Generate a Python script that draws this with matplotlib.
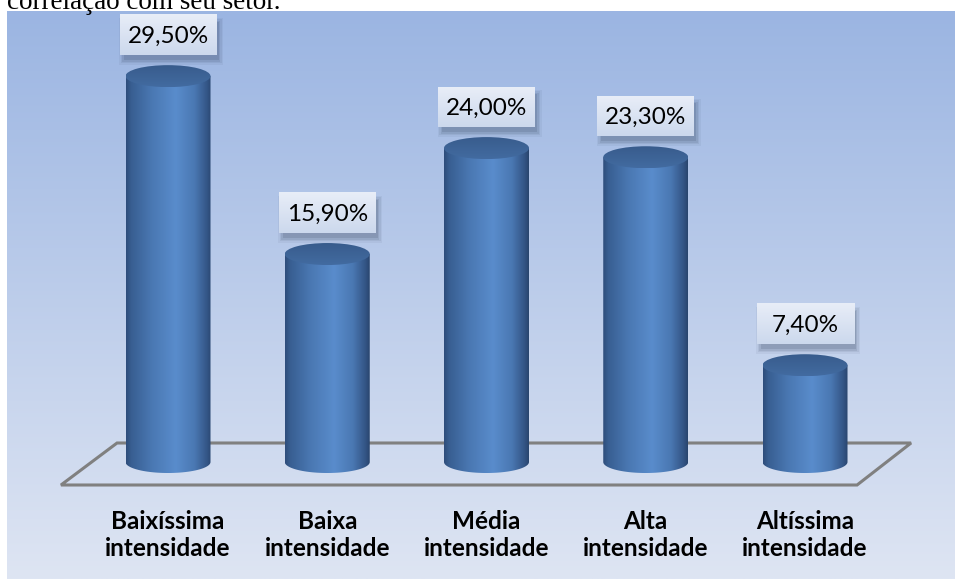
import numpy as np
import matplotlib
matplotlib.use("Agg")
import matplotlib.pyplot as plt
from matplotlib.path import Path
from matplotlib.patches import PathPatch, Ellipse, Rectangle, Polygon
from matplotlib.colors import LinearSegmentedColormap

categories = ["Baixíssima\nintensidade", "Baixa\nintensidade", "Média\nintensidade",
              "Alta\nintensidade", "Altíssima\nintensidade"]
values = [29.5, 15.9, 24.0, 23.3, 7.4]

W, H = 955, 579
fig = plt.figure(figsize=(W / 100, H / 100), dpi=100)
fig.patch.set_facecolor("white")

# caption line above the chart (partly off the top edge)
fig.text(7 / W, 1 - 9 / H, "correlação com seu setor.", fontsize=19.5,
         family="Liberation Serif", va="baseline", ha="left", color="black")

# chart area background gradient
bg = fig.add_axes([7 / W, 0, (954 - 7) / W, (H - 11) / H])
top_c = np.array([155, 181, 226]) / 255
bot_c = np.array([222, 229, 243]) / 255
t = np.linspace(0, 1, 256)[:, None]
grad = top_c[None, :] * (1 - t) + bot_c[None, :] * t
bg.imshow(grad[:, None, :].repeat(2, axis=1), aspect="auto", extent=[0, 1, 0, 1])
bg.set_axis_off()

# main data axes over the full figure
ax = fig.add_axes([0, 0, 1, 1])
ax.patch.set_alpha(0)
px_per_cat = 159.25
px_per_unit = 13.08
x0_px, base_px = 168, 462
ax.set_axis_off()

def px2x(p):
    return p / px_per_cat

def px2y(p):
    return p / px_per_unit

# floor outline
floor = Polygon([(-0.32, px2y(19)), (4.666, px2y(19)), (4.327, px2y(-23)), (-0.672, px2y(-23))],
                closed=True, fill=False, edgecolor="#808080", lw=2.2, zorder=1)
ax.add_patch(floor)

body_cmap = LinearSegmentedColormap.from_list("body", [
    (0.00, (0.18, 0.30, 0.48)),
    (0.06, (0.22, 0.37, 0.57)),
    (0.30, (0.29, 0.47, 0.70)),
    (0.58, (0.35, 0.55, 0.80)),
    (0.80, (0.29, 0.47, 0.70)),
    (0.95, (0.20, 0.33, 0.52)),
    (1.00, (0.16, 0.27, 0.43)),
])
top_cmap = LinearSegmentedColormap.from_list("top", [(0.22, 0.36, 0.55), (0.26, 0.42, 0.63)])
box_cmap = LinearSegmentedColormap.from_list("box", [(0.91, 0.93, 0.97), (0.80, 0.85, 0.93)])

hw = px2x(42.5)
e = px2y(11)
box_w, box_h = px2x(97), px2y(40)
label_gap = px2y(41)

for i, (cat, v) in enumerate(zip(categories, values)):
    cx = i
    th = np.linspace(0, np.pi, 60)
    verts = [(cx - hw, v), (cx + hw, v)]
    verts += [(cx + hw * np.cos(a), -e * np.sin(a)) for a in th]
    verts.append((cx - hw, v))
    body_path = Path(verts, closed=False)
    clip = PathPatch(body_path, transform=ax.transData, facecolor="none", edgecolor="none")
    ax.add_patch(clip)
    im = ax.imshow(np.linspace(0, 1, 256)[None, :], cmap=body_cmap, aspect="auto",
                   extent=[cx - hw, cx + hw, -e - 0.1, v + 0.1], zorder=2, interpolation="bilinear")
    im.set_clip_path(clip)
    # top face with a soft vertical gradient
    top = Ellipse((cx, v), 2 * hw, 2 * e, facecolor="none", edgecolor="none", zorder=3)
    ax.add_patch(top)
    tim = ax.imshow(np.linspace(0, 1, 64)[:, None], cmap=top_cmap, aspect="auto",
                    extent=[cx - hw, cx + hw, v - e, v + e], zorder=3, interpolation="bilinear",
                    origin="upper")
    tim.set_clip_path(top)

    # value label box with drop shadow
    ly = v + label_gap
    for k, a in enumerate([0.05, 0.07, 0.09, 0.12]):
        grow = (3 - k) * 1.5
        ax.add_patch(Rectangle((cx - box_w / 2 + px2x(4 - grow), ly - box_h / 2 - px2y(5 + grow)),
                               box_w + px2x(2 * grow) - px2x(2), box_h + px2y(2 * grow) - px2y(2),
                               facecolor="#1a2a40", edgecolor="none", alpha=a, zorder=4))
    ax.imshow(np.linspace(0, 1, 64)[:, None], cmap=box_cmap, aspect="auto",
              extent=[cx - box_w / 2, cx + box_w / 2, ly - box_h / 2, ly + box_h / 2],
              zorder=5, interpolation="bilinear")
    label = f"{v:.2f}".replace(".", ",") + "%"
    ax.text(cx, ly - px2y(1), label, ha="center", va="center", fontsize=17.5,
            family="Lato", color="black", zorder=6)

    # category label
    ax.text(cx, px2y(462 - 535), cat, ha="center", va="center", fontsize=17.5,
            family="Lato", fontweight="bold", color="black", linespacing=1.2, zorder=6)

ax.set_xlim(-x0_px / px_per_cat, (W - x0_px) / px_per_cat)
ax.set_ylim((base_px - H) / px_per_unit, base_px / px_per_unit)

fig.savefig("out.png", dpi=100)
